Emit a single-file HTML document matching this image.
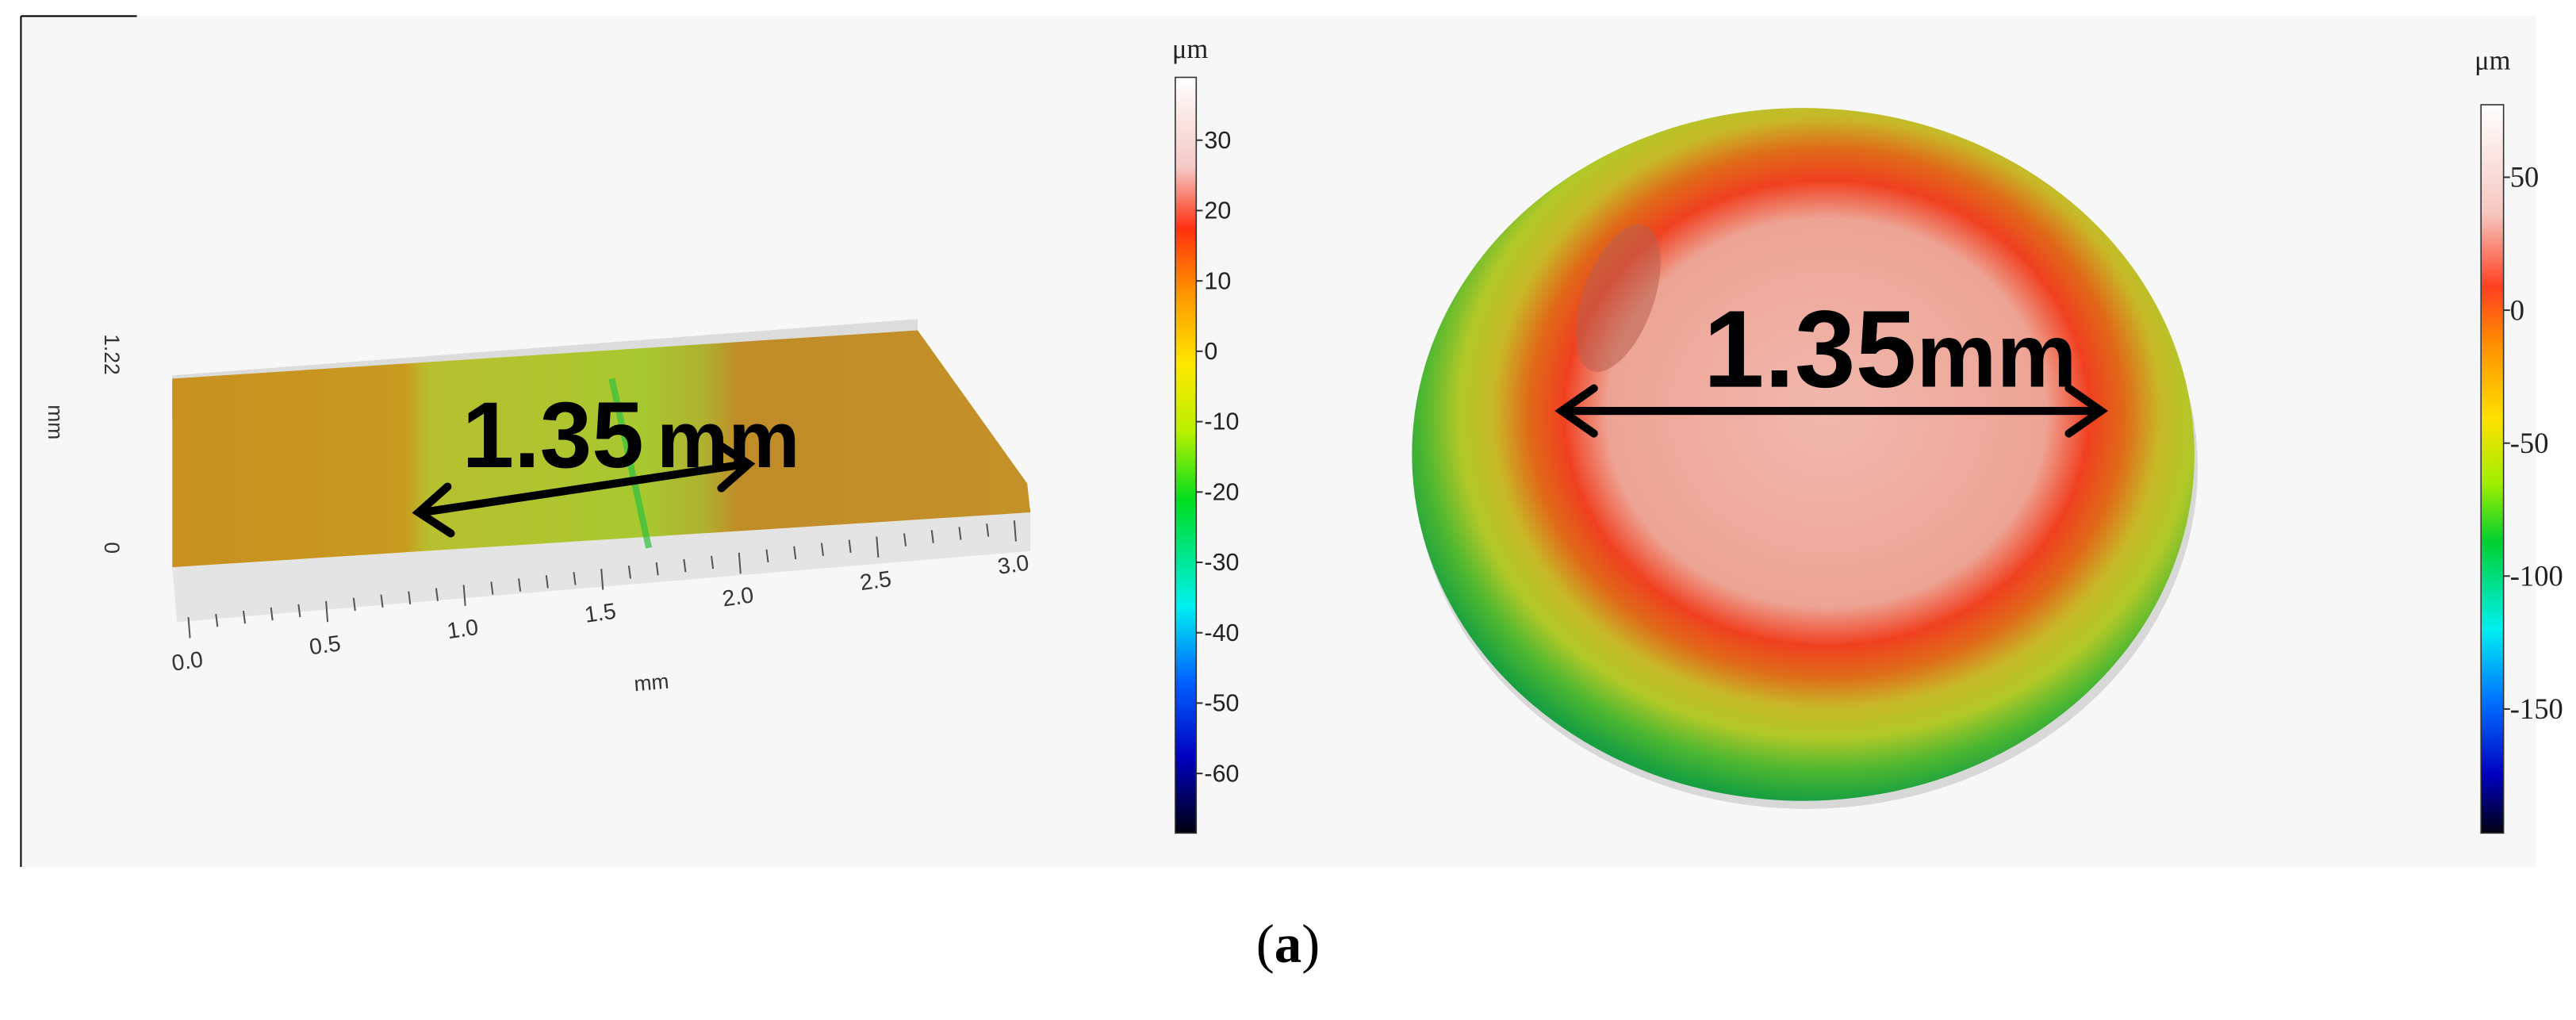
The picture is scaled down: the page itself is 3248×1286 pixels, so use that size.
<!DOCTYPE html>
<html><head><meta charset="utf-8"><style>
html,body{margin:0;padding:0;background:#fff;}
svg{display:block;font-family:"Liberation Sans",sans-serif;}
</style></head><body>
<svg id="fig" width="3248" height="1286" viewBox="0 0 1600 633" preserveAspectRatio="none" xmlns="http://www.w3.org/2000/svg">
<defs>
<linearGradient id="cbL" x1="0" y1="0" x2="0" y2="1">
<stop offset="0" stop-color="#ffffff"/><stop offset="0.12" stop-color="#f4c8c4"/><stop offset="0.2" stop-color="#ff3010"/><stop offset="0.29" stop-color="#ff9a00"/><stop offset="0.38" stop-color="#ffe800"/><stop offset="0.47" stop-color="#b8f000"/><stop offset="0.56" stop-color="#00dd20"/><stop offset="0.7" stop-color="#00f0f0"/><stop offset="0.8" stop-color="#0060ff"/><stop offset="0.9" stop-color="#0000c0"/><stop offset="1" stop-color="#000010"/>
</linearGradient>
<linearGradient id="cbR" x1="0" y1="0" x2="0" y2="1">
<stop offset="0" stop-color="#ffffff"/><stop offset="0.15" stop-color="#f6c6c0"/><stop offset="0.25" stop-color="#ff4020"/><stop offset="0.33" stop-color="#ff9000"/><stop offset="0.43" stop-color="#ffe000"/><stop offset="0.52" stop-color="#a0ee00"/><stop offset="0.6" stop-color="#00d030"/><stop offset="0.72" stop-color="#00f0f0"/><stop offset="0.82" stop-color="#0070ff"/><stop offset="0.92" stop-color="#0000c0"/><stop offset="1" stop-color="#000010"/>
</linearGradient>
<radialGradient id="disk" cx="0.53" cy="0.44" r="0.56">
<stop offset="0" stop-color="#f0b8ae"/><stop offset="0.5" stop-color="#eea494"/><stop offset="0.6" stop-color="#f04020"/><stop offset="0.68" stop-color="#e06a18"/><stop offset="0.76" stop-color="#c8b828"/><stop offset="0.84" stop-color="#b0c828"/><stop offset="0.92" stop-color="#50b830"/><stop offset="1" stop-color="#18a040"/>
</radialGradient>
<linearGradient id="slab" x1="0" y1="0" x2="1" y2="0">
<stop offset="0" stop-color="#c89020"/><stop offset="0.27" stop-color="#c89a20"/><stop offset="0.3" stop-color="#b8c030"/><stop offset="0.55" stop-color="#a8c830"/><stop offset="0.62" stop-color="#b0b030"/><stop offset="0.66" stop-color="#c08c28"/><stop offset="1" stop-color="#c49028"/>
</linearGradient>
</defs>
<rect x="13" y="10" width="1562" height="528" fill="#f7f7f7"/>
<line x1="13" y1="10" x2="85" y2="10" stroke="#000" stroke-width="1"/>
<line x1="13" y1="10" x2="13" y2="538" stroke="#000" stroke-width="1"/>

<g>
<polygon points="107,233 570,198 570,225 107,262" fill="#dcdcdc"/>
<polygon points="107,352 640,318 640,342 110,386" fill="#e4e4e4"/>
<polygon points="107,235 570,205 638,300 640,318 107,352" fill="url(#slab)"/>
<line x1="380" y1="235" x2="403" y2="340" stroke="#30c040" stroke-width="4" opacity="0.7"/>
<g id="xticks" stroke="#555" stroke-width="1"></g>
<g id="xlabels" font-size="14" fill="#333"></g>
<text x="405" y="428" font-size="13" fill="#333" text-anchor="middle" transform="rotate(-5 405 428)">mm</text>
<text x="0" y="0" font-size="13" fill="#333" transform="translate(30 262) rotate(90)" text-anchor="middle">mm</text>
<text font-size="13" fill="#333" transform="translate(65 220) rotate(90)" text-anchor="middle">1.22</text>
<text font-size="13" fill="#333" transform="translate(65 340) rotate(90)" text-anchor="middle">0</text>
<text x="287" y="290" font-size="58" font-weight="bold" fill="#000">1.35<tspan font-size="50" dx="8">mm</tspan></text>
<g stroke="#000" stroke-width="5" fill="none" stroke-linecap="round">
<line x1="262" y1="318" x2="463" y2="288"/>
<polyline points="278,302 260,318 280,331"/><polyline points="445,275 465,288 448,303"/>
</g>
</g>

<g>
<rect x="730" y="48" width="13" height="469" fill="url(#cbL)" stroke="#333" stroke-width="0.8"/>
<text x="728" y="36" font-family="Liberation Serif,serif" font-size="17" fill="#222">μm</text>
<g id="cbLticks" font-size="15" fill="#222"></g>
</g>

<g>
<ellipse cx="1122" cy="290" rx="243" ry="212" fill="#d8d8d8"/>
<ellipse cx="1120" cy="282" rx="243" ry="215" fill="url(#disk)"/>
<ellipse cx="1005" cy="185" rx="22" ry="48" fill="#b86050" opacity="0.55" transform="rotate(20 1005 185)"/>
<text x="1058" y="240" font-size="68" font-weight="bold" fill="#000">1.35<tspan font-size="56">mm</tspan></text>
<g stroke="#000" stroke-width="5" fill="none" stroke-linecap="round">
<line x1="970" y1="255" x2="1305" y2="255"/>
<polyline points="990,241 970,255 990,269"/><polyline points="1285,241 1305,255 1285,269"/>
</g>
</g>

<g>
<rect x="1541" y="65" width="14" height="452" fill="url(#cbR)" stroke="#333" stroke-width="0.8"/>
<text x="1537" y="43" font-family="Liberation Serif,serif" font-size="17" fill="#222">μm</text>
<g id="cbRticks" font-family="Liberation Serif,serif" font-size="18" fill="#222"></g>
</g>

<text x="800" y="597" text-anchor="middle" font-family="Liberation Serif,serif" font-size="34" fill="#000">(<tspan font-weight="bold">a</tspan>)</text>
</svg>
<script>
const cbLValues=[30,20,10,0,-10,-20,-30,-40,-50,-60];
const cbRValues=[50,0,-50,-100,-150];
const xTickValues=[0.0,0.5,1.0,1.5,2.0,2.5,3.0];
const NS="http://www.w3.org/2000/svg";
function yL(v){return 87+(30-v)*(480-87)/90;}
function yR(v){return 110+(50-v)*(440-110)/200;}
function xP(v){return 117+v*(630-117)/3;}
function xY(v){return 401-v*(401-341)/3;}
const gL=document.getElementById('cbLticks');
cbLValues.forEach(v=>{
const t=document.createElementNS(NS,'text');


t.setAttribute('x',748);t.setAttribute('y',yL(v)+5);t.textContent=v;gL.appendChild(t);
const l=document.createElementNS(NS,'line');
l.setAttribute('x1',743);l.setAttribute('x2',747);l.setAttribute('y1',yL(v));l.setAttribute('y2',yL(v));l.setAttribute('stroke','#333');gL.appendChild(l);
});
const gR=document.getElementById('cbRticks');
cbRValues.forEach(v=>{
const t=document.createElementNS(NS,'text');


t.setAttribute('x',1559);t.setAttribute('y',yR(v)+6);t.textContent=v;gR.appendChild(t);
const l=document.createElementNS(NS,'line');
l.setAttribute('x1',1555);l.setAttribute('x2',1559);l.setAttribute('y1',yR(v));l.setAttribute('y2',yR(v));l.setAttribute('stroke','#333');gR.appendChild(l);
});
const gT=document.getElementById('xticks'),gX=document.getElementById('xlabels');
for(let i=0;i<=30;i++){const v=i/10;const l=document.createElementNS(NS,'line');
l.setAttribute('x1',xP(v));l.setAttribute('x2',xP(v)+1);l.setAttribute('y1',xY(v)-18);l.setAttribute('y2',xY(v)-(i%5?10:5));gT.appendChild(l);}
xTickValues.forEach(v=>{const t=document.createElementNS(NS,'text');


t.setAttribute('x',xP(v));t.setAttribute('y',xY(v)+14);t.setAttribute('text-anchor','middle');
t.setAttribute('transform','rotate(-8 '+xP(v)+' '+(xY(v)+14)+')');t.textContent=v.toFixed(1);gX.appendChild(t);});
</script>
</body></html>
